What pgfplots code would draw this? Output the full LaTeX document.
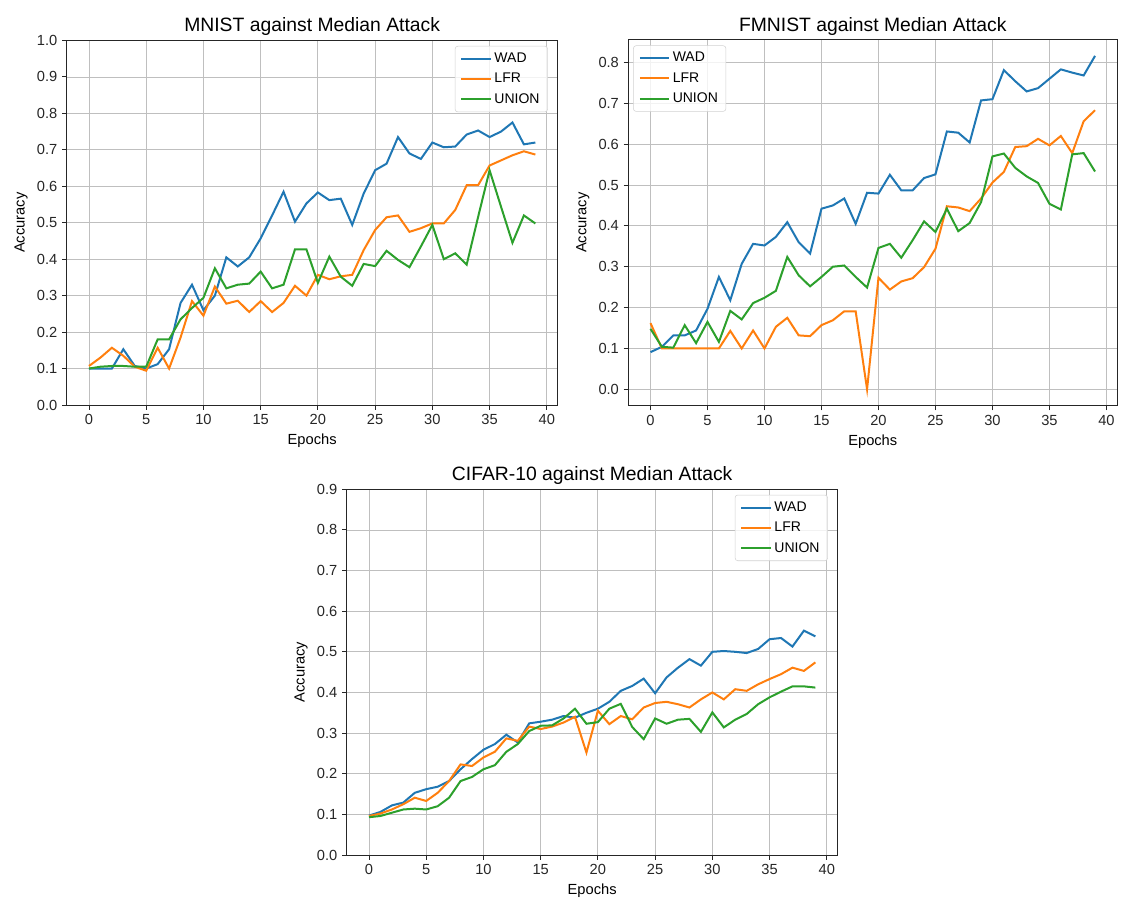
\documentclass[border=0pt]{standalone}
\usepackage{pgfplots}
\usepackage{pgfplotstable}
\pgfplotsset{compat=1.18}
\usepackage{fontspec}
\setmainfont{Liberation Sans}
\definecolor{tabblue}{HTML}{1F77B4}
\definecolor{taborange}{HTML}{FF7F0E}
\definecolor{tabgreen}{HTML}{2CA02C}

\pgfplotstableread{
e wad lfr union
0 0.100 0.107 0.100
1 0.100 0.130 0.105
2 0.100 0.157 0.107
3 0.153 0.135 0.107
4 0.107 0.105 0.105
5 0.100 0.094 0.105
6 0.112 0.157 0.180
7 0.153 0.100 0.180
8 0.280 0.185 0.235
9 0.330 0.285 0.266
10 0.260 0.245 0.294
11 0.300 0.325 0.375
12 0.405 0.278 0.320
13 0.380 0.286 0.330
14 0.405 0.255 0.333
15 0.457 0.285 0.366
16 0.520 0.255 0.320
17 0.585 0.280 0.330
18 0.503 0.327 0.427
19 0.553 0.300 0.427
20 0.583 0.357 0.335
21 0.562 0.345 0.407
22 0.566 0.353 0.352
23 0.494 0.357 0.327
24 0.580 0.425 0.387
25 0.644 0.480 0.381
26 0.662 0.515 0.423
27 0.735 0.520 0.398
28 0.690 0.475 0.378
29 0.675 0.485 0.435
30 0.720 0.498 0.494
31 0.707 0.498 0.400
32 0.709 0.535 0.416
33 0.742 0.603 0.385
34 0.753 0.603 0.516
35 0.735 0.657 0.644
36 0.750 0.671 0.544
37 0.775 0.685 0.445
38 0.715 0.696 0.520
39 0.720 0.687 0.498
}\mnist

\pgfplotstableread{
e wad lfr union
0 0.091 0.162 0.148
1 0.104 0.100 0.104
2 0.132 0.100 0.102
3 0.132 0.100 0.157
4 0.144 0.100 0.113
5 0.197 0.100 0.165
6 0.275 0.100 0.116
7 0.218 0.143 0.192
8 0.307 0.100 0.171
9 0.356 0.144 0.211
10 0.352 0.100 0.224
11 0.373 0.153 0.241
12 0.409 0.175 0.324
13 0.360 0.132 0.279
14 0.332 0.130 0.252
15 0.442 0.157 0.275
16 0.450 0.169 0.300
17 0.467 0.191 0.303
18 0.405 0.191 0.275
19 0.481 0.000 0.249
20 0.479 0.273 0.346
21 0.525 0.244 0.356
22 0.487 0.264 0.322
23 0.487 0.272 0.365
24 0.517 0.299 0.411
25 0.526 0.344 0.385
26 0.631 0.448 0.442
27 0.628 0.445 0.387
28 0.604 0.436 0.407
29 0.707 0.467 0.458
30 0.710 0.506 0.570
31 0.781 0.532 0.577
32 0.754 0.593 0.542
33 0.729 0.595 0.521
34 0.737 0.613 0.505
35 0.760 0.597 0.454
36 0.783 0.620 0.440
37 0.775 0.578 0.575
38 0.768 0.656 0.578
39 0.816 0.683 0.533
}\fmnist

\pgfplotstableread{
e wad lfr union
0 0.097 0.096 0.093
1 0.106 0.102 0.096
2 0.122 0.112 0.104
3 0.129 0.125 0.112
4 0.153 0.141 0.114
5 0.162 0.133 0.112
6 0.168 0.153 0.120
7 0.182 0.182 0.141
8 0.211 0.223 0.182
9 0.236 0.219 0.192
10 0.259 0.240 0.211
11 0.273 0.254 0.221
12 0.296 0.287 0.254
13 0.277 0.281 0.273
14 0.324 0.316 0.305
15 0.328 0.310 0.318
16 0.333 0.316 0.319
17 0.342 0.326 0.336
18 0.338 0.340 0.360
19 0.350 0.252 0.323
20 0.360 0.355 0.327
21 0.377 0.322 0.360
22 0.404 0.342 0.372
23 0.416 0.334 0.315
24 0.434 0.363 0.285
25 0.398 0.374 0.336
26 0.437 0.377 0.323
27 0.461 0.371 0.333
28 0.482 0.363 0.335
29 0.466 0.383 0.303
30 0.500 0.400 0.351
31 0.502 0.383 0.314
32 0.500 0.408 0.333
33 0.497 0.404 0.347
34 0.507 0.420 0.371
35 0.531 0.433 0.388
36 0.534 0.445 0.402
37 0.513 0.461 0.415
38 0.552 0.453 0.415
39 0.538 0.474 0.412
}\cifar

\pgfplotsset{
  myaxis/.style={
    scale only axis,
    anchor=south west,
    xmin=-1.95, xmax=40.95,
    xtick={0,5,10,15,20,25,30,35,40},
    grid=major,
    major grid style={gray!50, line width=0.6pt},
    axis line style={black!85, line width=0.7pt},
    tick align=outside,
    tick pos=left,
    major tick length=3.5pt,
    tick style={black!85, line width=0.7pt},
    /pgf/number format/assume math mode=true,
    yticklabel style={/pgf/number format/fixed, /pgf/number format/fixed zerofill, /pgf/number format/precision=1},
    scaled y ticks=false,
    ticklabel style={font=\fontsize{11}{13}\selectfont, text=black!85},
    label style={font=\fontsize{11}{13}\selectfont},
    title style={font=\fontsize{14.5}{17}\selectfont, yshift=-6pt},
    xlabel={Epochs}, ylabel={Accuracy},
    every axis plot/.append style={line width=1.5pt, mark=none},
    legend cell align=left,
    legend image code/.code={\draw[##1, line width=1.5pt] (0pt,0pt) -- (22pt,0pt);},
    legend style={draw=gray!35, rounded corners=2pt, fill=white, fill opacity=0.8, text opacity=1,
      font=\fontsize{10.5}{12}\selectfont, row sep=2.5pt, inner xsep=4pt, inner ysep=3pt},
  }
}

\begin{document}
\begin{tikzpicture}
\path[use as bounding box] (0,0) rectangle (841.5pt,672.75pt);

\begin{axis}[myaxis, at={(50pt,369pt)}, width=368.25pt, height=273.4pt,
  ymin=0, ymax=1.0, ytick={0,0.1,0.2,0.3,0.4,0.5,0.6,0.7,0.8,0.9,1.0},
  title={MNIST against Median Attack},
  legend style={at={(0.98,0.985)}, anchor=north east}]
\addplot[tabblue] table[x=e,y=wad]{\mnist};
\addlegendentry{WAD}
\addplot[taborange] table[x=e,y=lfr]{\mnist};
\addlegendentry{LFR}
\addplot[tabgreen] table[x=e,y=union]{\mnist};
\addlegendentry{UNION}
\end{axis}

\begin{axis}[myaxis, at={(471.2pt,368.5pt)}, width=366.75pt, height=274.3pt,
  ymin=-0.04, ymax=0.855, ytick={0,0.1,0.2,0.3,0.4,0.5,0.6,0.7,0.8},
  title={FMNIST against Median Attack},
  legend style={at={(0.01,0.985)}, anchor=north west}]
\addplot[tabblue] table[x=e,y=wad]{\fmnist};
\addlegendentry{WAD}
\addplot[taborange] table[x=e,y=lfr]{\fmnist};
\addlegendentry{LFR}
\addplot[tabgreen] table[x=e,y=union]{\fmnist};
\addlegendentry{UNION}
\end{axis}

\begin{axis}[myaxis, at={(260pt,31.5pt)}, width=368.25pt, height=274.3pt,
  ymin=0, ymax=0.9, ytick={0,0.1,0.2,0.3,0.4,0.5,0.6,0.7,0.8,0.9},
  title={CIFAR-10 against Median Attack},
  legend style={at={(0.98,0.985)}, anchor=north east}]
\addplot[tabblue] table[x=e,y=wad]{\cifar};
\addlegendentry{WAD}
\addplot[taborange] table[x=e,y=lfr]{\cifar};
\addlegendentry{LFR}
\addplot[tabgreen] table[x=e,y=union]{\cifar};
\addlegendentry{UNION}
\end{axis}
\end{tikzpicture}
\end{document}
